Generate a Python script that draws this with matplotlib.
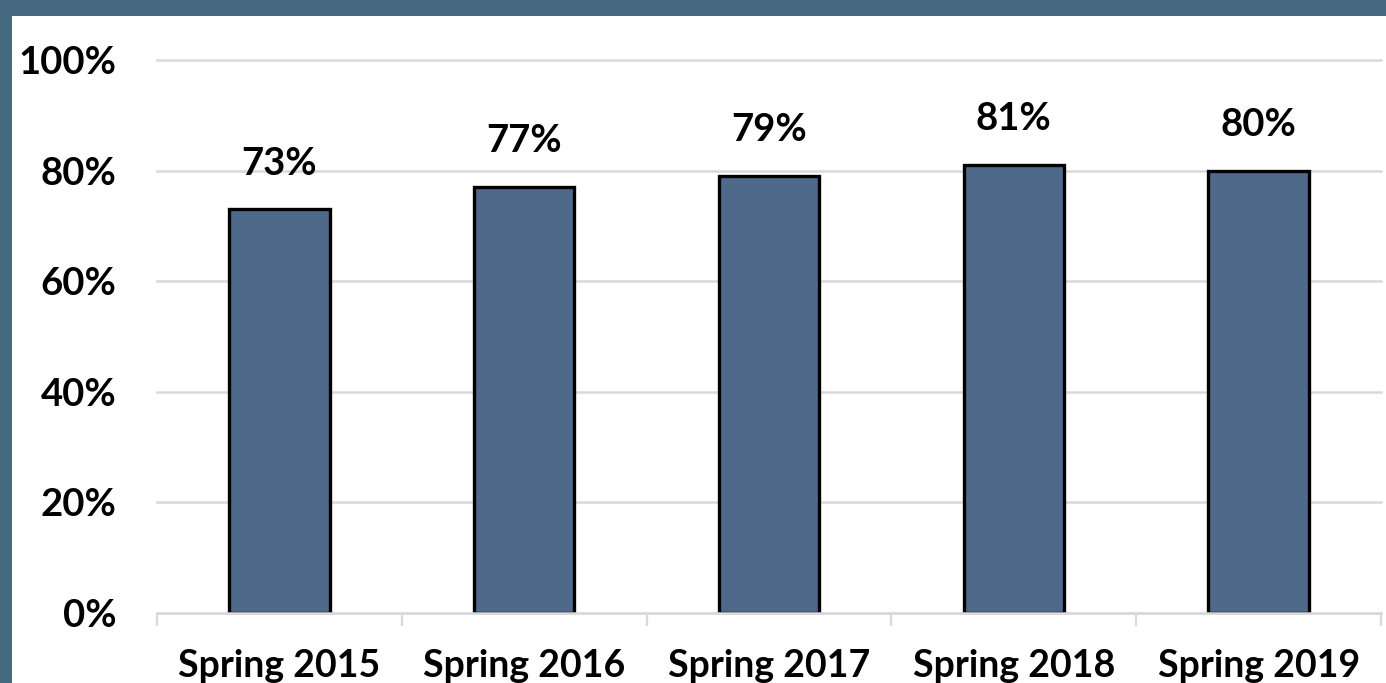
import matplotlib
matplotlib.use("Agg")
import matplotlib.pyplot as plt
from matplotlib.patches import Rectangle
from matplotlib.ticker import FixedLocator, PercentFormatter
import numpy as np

categories = ["Spring 2015", "Spring 2016", "Spring 2017", "Spring 2018", "Spring 2019"]
values = [73, 77, 79, 81, 80]
yticks = [0, 20, 40, 60, 80, 100]

plt.rcParams['font.family'] = ['Lato', 'DejaVu Sans']
plt.rcParams['font.weight'] = 'bold'

W, H = 1386, 683
fig = plt.figure(figsize=(W/100, H/100), dpi=100)
fig.patch.set_facecolor('#456a80')
fig.patches.append(Rectangle((12/W, 0), 1 - 12/W, (H-16)/H, transform=fig.transFigure,
                             facecolor='white', edgecolor='none', zorder=-10))

ax = fig.add_axes([157/W, (H-613)/H, (1381-157)/W, (613-60)/H])
ax.set_zorder(5)
ax.set_facecolor('none')

x = np.arange(len(categories))
bars = ax.bar(x, values, width=0.41, color='#4e6989', edgecolor='black', linewidth=2.4, zorder=3)

for xi, v in zip(x, values):
    ax.annotate(f"{v}%", (xi, v), xytext=(0, 25), textcoords='offset points',
                ha='center', va='baseline', fontsize=27.5, fontweight='bold', color='black')

ax.set_xlim(-0.5, len(categories) - 0.5)
ax.set_ylim(0, 100)
ax.set_yticks(yticks)
ax.yaxis.set_major_formatter(PercentFormatter(decimals=0))
ax.grid(axis='y', color='#d9d9d9', linewidth=1.8, zorder=0)
for gl in ax.get_ygridlines():
    gl.set_clip_on(False)
ax.set_axisbelow(True)

ax.set_xticks(x)
ax.set_xticklabels(categories)
ax.xaxis.set_minor_locator(FixedLocator(np.arange(-0.5, len(categories), 1.0)))
ax.tick_params(axis='x', which='major', length=0, pad=26, labelsize=27)
ax.tick_params(axis='x', which='minor', length=9, width=1.6, color='#d9d9d9', direction='out')
ax.tick_params(axis='y', length=0, pad=29, labelsize=27.5)

for s in ['top', 'right', 'left']:
    ax.spines[s].set_visible(False)
ax.spines['bottom'].set_color('#d9d9d9')
ax.spines['bottom'].set_linewidth(1.8)
ax.spines['bottom'].set_zorder(4)

fig.savefig('out.png', dpi=100, facecolor=fig.get_facecolor())
